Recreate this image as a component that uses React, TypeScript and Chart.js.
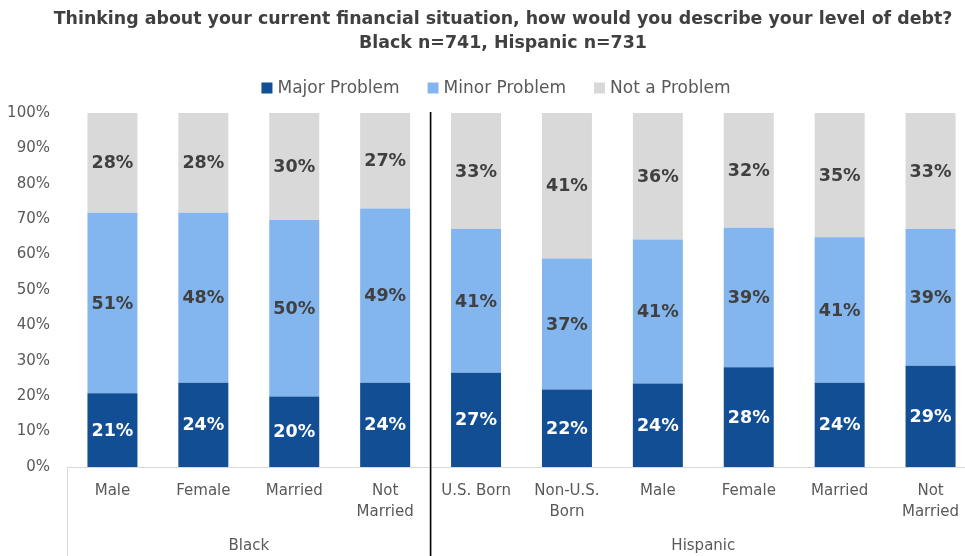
import React, { useEffect, useRef } from 'react';
import { Chart, registerables } from 'chart.js';

Chart.register(...registerables);

const titleLines = [
  'Thinking about your current financial situation, how would you describe your level of debt?',
  'Black n=741, Hispanic n=731',
];
const categories = [
  ['Male'], ['Female'], ['Married'], ['Not', 'Married'],
  ['U.S. Born'], ['Non-U.S.', 'Born'], ['Male'], ['Female'], ['Married'], ['Not', 'Married'],
];
const groups = ['Black', 'Hispanic'];
const groupSizes = [4, 6];
const seriesNames = ['Major Problem', 'Minor Problem', 'Not a Problem'];
const majorProblem = [20.8, 23.8, 19.9, 23.8, 26.6, 21.9, 23.6, 28.2, 23.8, 28.6];
const minorProblem = [51.0, 48.0, 49.9, 49.2, 40.6, 37.0, 40.7, 39.4, 41.1, 38.6];
const notAProblem = [28.2, 28.2, 30.2, 27.0, 32.8, 41.1, 35.7, 32.4, 35.1, 32.8];
const yMin = 0;
const yMax = 100;
const yStep = 10;

const COLORS = ['#114E93', '#83B5EE', '#D9D9D9'];
const LABEL_COLORS = ['#FFFFFF', '#404040', '#404040'];
const FONT = '"DejaVu Sans", sans-serif';
const CW = 976;
const CH = 556;

const decorPlugin = {
  id: 'decor',
  afterDraw(chart: any) {
    const ctx = chart.ctx;
    const area = chart.chartArea;
    const xs = chart.scales.x;
    ctx.save();
    // title
    ctx.fillStyle = '#404040';
    ctx.font = `bold 17.4px ${FONT}`;
    ctx.textAlign = 'center';
    ctx.textBaseline = 'middle';
    ctx.fillText(titleLines[0], 503, 19);
    ctx.fillText(titleLines[1], 503, 43);

    // legend
    ctx.font = `17px ${FONT}`;
    const box = 11, gap = 5, spacing = 28;
    const items = chart.data.datasets.map((d: any) => ({
      label: d.label, color: d.backgroundColor, w: box + gap + ctx.measureText(d.label).width,
    }));
    const total = items.reduce((s: number, it: any) => s + it.w, 0) + spacing * (items.length - 1);
    let lx = 496 - total / 2;
    const ly = 88;
    ctx.textAlign = 'left';
    items.forEach((it: any) => {
      ctx.fillStyle = it.color;
      ctx.fillRect(lx, ly - box / 2, box, box);
      ctx.fillStyle = '#595959';
      ctx.fillText(it.label, lx + box + gap, ly + 1);
      lx += it.w + spacing;
    });

    // left axis line under plot
    ctx.strokeStyle = '#D9D9D9';
    ctx.lineWidth = 1;
    ctx.beginPath();
    ctx.moveTo(Math.round(area.left) + 0.5, area.bottom);
    ctx.lineTo(Math.round(area.left) + 0.5, CH);
    ctx.stroke();

    // group separators and labels
    ctx.font = `15px ${FONT}`;
    ctx.fillStyle = '#595959';
    ctx.textAlign = 'center';
    let start = 0;
    let leftEdge = area.left;
    groups.forEach((g, gi) => {
      const end = start + groupSizes[gi];
      const rightEdge = end < categories.length
        ? (xs.getPixelForValue(end - 1) + xs.getPixelForValue(end)) / 2
        : area.right;
      ctx.fillText(g, (leftEdge + rightEdge) / 2, 546);
      if (end < categories.length) {
        ctx.strokeStyle = '#000000';
        ctx.lineWidth = 1.6;
        ctx.beginPath();
        ctx.moveTo(rightEdge, area.top - 1);
        ctx.lineTo(rightEdge, CH);
        ctx.stroke();
      }
      leftEdge = rightEdge;
      start = end;
    });
    ctx.restore();
  },
  afterDatasetsDraw(chart: any) {
    const ctx = chart.ctx;
    ctx.save();
    ctx.font = `bold 17.5px ${FONT}`;
    ctx.textAlign = 'center';
    ctx.textBaseline = 'middle';
    chart.data.datasets.forEach((ds: any, di: number) => {
      const meta = chart.getDatasetMeta(di);
      meta.data.forEach((el: any, i: number) => {
        const { x, y, base } = el.getProps(['x', 'y', 'base'], true);
        ctx.fillStyle = LABEL_COLORS[di];
        ctx.fillText(Math.round(ds.data[i]) + '%', x, (y + base) / 2 + 1);
      });
    });
    ctx.restore();
  },
};

export default function App() {
  const ref = useRef<HTMLCanvasElement>(null);
  useEffect(() => {
    if (!ref.current) return;
    const chart = new Chart(ref.current, {
      type: 'bar',
      data: {
        labels: categories,
        datasets: [majorProblem, minorProblem, notAProblem].map((d, i) => ({
          label: seriesNames[i],
          data: d,
          backgroundColor: COLORS[i],
          borderWidth: 0,
          categoryPercentage: 1,
          barPercentage: 0.55,
        })),
      },
      options: {
        responsive: false,
        devicePixelRatio: 1,
        animation: false,
        layout: { padding: { top: 113, left: 0, right: 0, bottom: 0 } },
        plugins: {
          legend: { display: false },
          title: { display: false },
          tooltip: { enabled: false },
        },
        scales: {
          x: {
            stacked: true,
            grid: { display: false, drawTicks: false },
            border: { display: true, color: '#D9D9D9', width: 1 },
            ticks: {
              color: '#595959',
              font: { family: FONT, size: 15, lineHeight: 1.4 },
              padding: 14,
              maxRotation: 0,
              autoSkip: false,
            },
            afterFit: (s: any) => { s.height = 89; },
          },
          y: {
            stacked: true,
            min: yMin,
            max: yMax,
            grid: { display: false, drawTicks: false },
            border: { display: false },
            ticks: {
              stepSize: yStep,
              color: '#595959',
              font: { family: FONT, size: 15 },
              padding: 17,
              callback: (v: any) => v + '%',
            },
            afterFit: (s: any) => { s.width = 67; },
          },
        },
      },
      plugins: [decorPlugin],
    });
    return () => chart.destroy();
  }, []);
  return (
    <div style={{ position: 'fixed', left: 0, top: 0, width: 965, height: 556, overflow: 'hidden', background: '#fff' }}>
      <canvas ref={ref} width={CW} height={CH} style={{ display: 'block', width: CW, height: CH }} />
    </div>
  );
}
